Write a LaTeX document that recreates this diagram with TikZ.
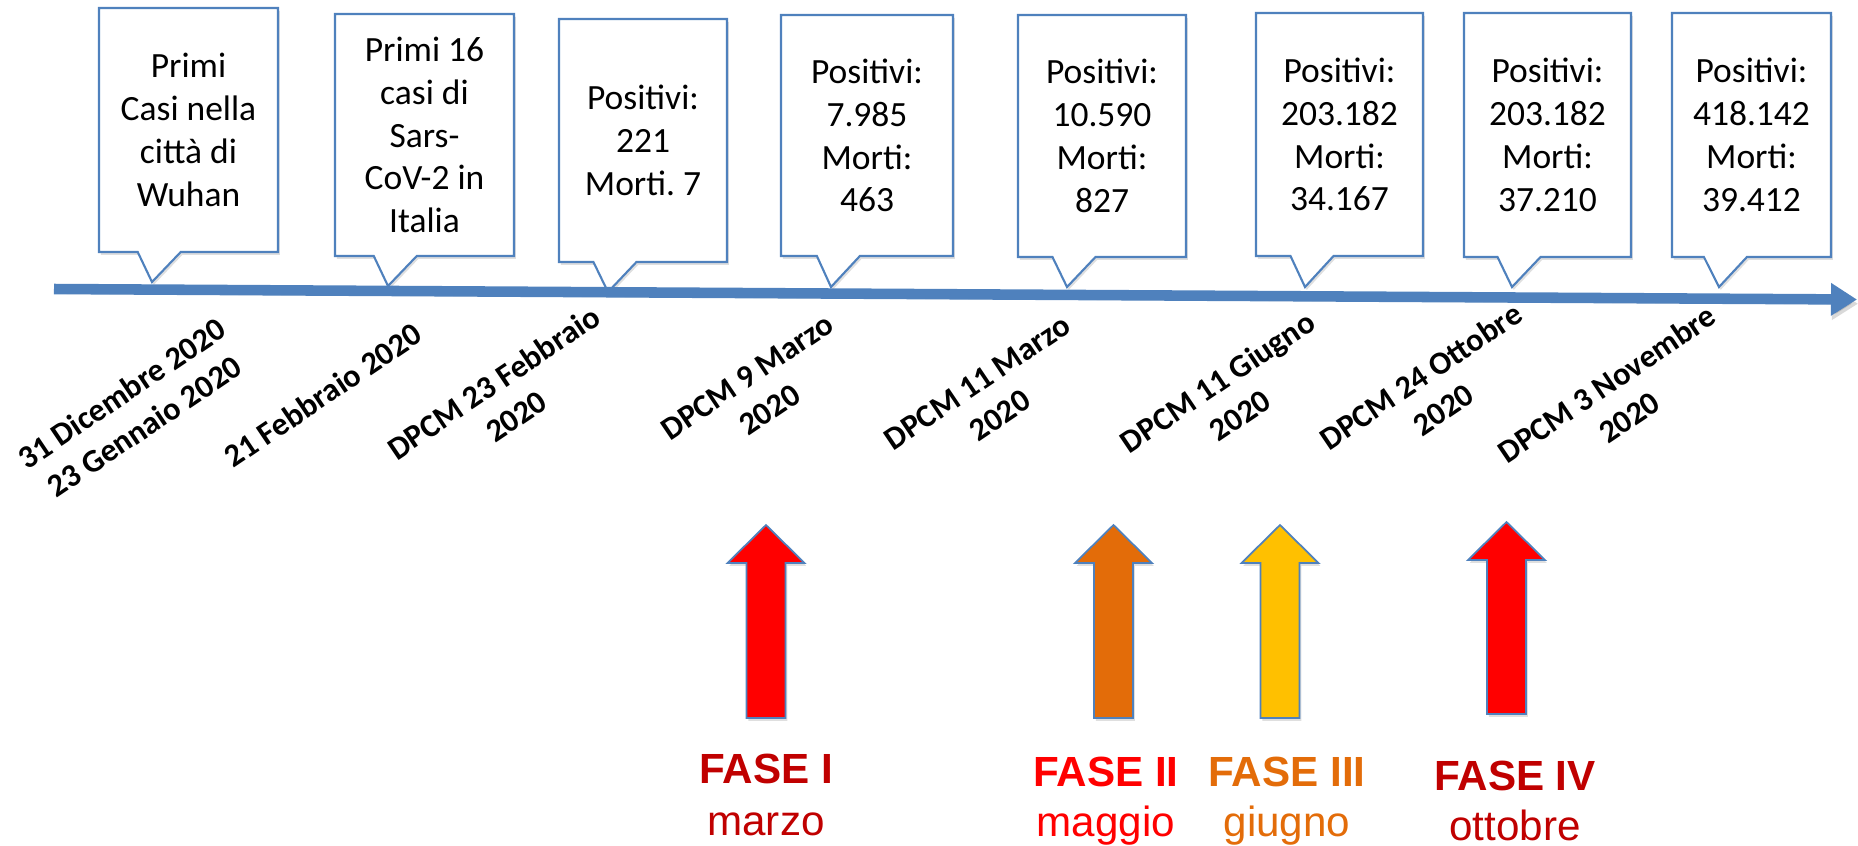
\documentclass[tikz,border=0pt]{standalone}
\usepackage{fontspec}
\setmainfont{Carlito}
\newfontfamily\arialfont{Liberation Sans}
\usepackage{tikz}
\usetikzlibrary{arrows.meta,shapes.callouts,shadows}
\definecolor{tlblue}{HTML}{4F81BD}
\definecolor{fasered}{HTML}{FF0000}
\definecolor{fasedark}{HTML}{C00000}
\definecolor{faseorange}{HTML}{E36C09}
\definecolor{faseyellow}{HTML}{FFC000}
\frenchspacing

\begin{document}
\begin{tikzpicture}[
    callbox/.style={rectangle callout, draw=tlblue, line width=0.6pt, fill=white,
      callout pointer width=0.43cm, align=center, inner sep=0pt,
      font=\fontsize{10.1}{12.2}\selectfont,
      drop shadow={shadow xshift=0.5pt, shadow yshift=-0.8pt, opacity=0.25}},
    datelabel/.style={rotate=34, anchor=north east, inner sep=0pt, align=center,
      font=\bfseries\fontsize{9.2}{11.4}\selectfont},
    fasearrow/.style={draw=tlblue, line width=0.5pt,
      drop shadow={shadow xshift=0.5pt, shadow yshift=-0.8pt, opacity=0.25}},
    fasetext/.style={anchor=base, inner sep=0pt, font=\arialfont\bfseries\fontsize{12}{14}\selectfont},
    mesetext/.style={anchor=base, inner sep=0pt, font=\arialfont\fontsize{12}{14}\selectfont}]

    \useasboundingbox (0,0) rectangle (18.58,-8.45);

    % pointer tips on the timeline
    \coordinate (t1) at ( 1.52,-2.82);
    \coordinate (t2) at ( 3.88,-2.86);
    \coordinate (t3) at ( 6.08,-2.92);
    \coordinate (t4) at ( 8.31,-2.87);
    \coordinate (t5) at (10.67,-2.87);
    \coordinate (t6) at (13.05,-2.87);
    \coordinate (t7) at (15.12,-2.87);
    \coordinate (t8) at (17.19,-2.87);

    % callouts
    \node[callbox, minimum width=1.79cm, minimum height=2.44cm, callout absolute pointer={(t1)}] (b1) at ( 1.885,-1.30)  {Primi\\Casi nella\\città di\\Wuhan};
    \node[callbox, minimum width=1.79cm, minimum height=2.42cm, callout absolute pointer={(t2)}] (b2) at ( 4.245,-1.35)  {Primi 16\\casi di\\Sars-\\CoV-2 in\\Italia};
    \node[callbox, minimum width=1.68cm, minimum height=2.43cm, callout absolute pointer={(t3)}] (b3) at ( 6.43, -1.405) {Positivi:\\221\\Morti. 7};
    \node[callbox, minimum width=1.72cm, minimum height=2.41cm, callout absolute pointer={(t4)}] (b4) at ( 8.67, -1.355) {Positivi:\\7.985\\Morti:\\463};
    \node[callbox, minimum width=1.68cm, minimum height=2.42cm, callout absolute pointer={(t5)}] (b5) at (11.02, -1.36)  {Positivi:\\10.590\\Morti:\\827};
    \node[callbox, minimum width=1.67cm, minimum height=2.43cm, callout absolute pointer={(t6)}] (b6) at (13.395,-1.345) {Positivi:\\203.182\\Morti:\\34.167};
    \node[callbox, minimum width=1.67cm, minimum height=2.44cm, callout absolute pointer={(t7)}] (b7) at (15.475,-1.35)  {Positivi:\\203.182\\Morti:\\37.210};
    \node[callbox, minimum width=1.59cm, minimum height=2.44cm, callout absolute pointer={(t8)}] (b8) at (17.515,-1.35)  {Positivi:\\418.142\\Morti:\\39.412};

    % timeline
    \coordinate (tl start) at ( 0.54,-2.89);
    \coordinate (tl end)   at (18.57,-2.995);
    \draw[tlblue, line width=3pt, -{Triangle[length=0.26cm, width=0.31cm]},
      preaction={draw=black, opacity=0.15, transform canvas={xshift=0.3pt, yshift=-1.2pt}}] (tl start) -- (tl end);

    % dates
    \node[datelabel] (d1) at ( 2.16,-3.15) {31 Dicembre 2020\\23 Gennaio 2020};
    \node[datelabel] (d2) at ( 4.12,-3.20) {21 Febbraio 2020};
    \node[datelabel] (d3) at ( 5.90,-3.03) {DPCM 23 Febbraio\\2020};
    \node[datelabel] (d4) at ( 8.24,-3.11) {DPCM 9 Marzo\\2020};
    \node[datelabel] (d5) at (10.61,-3.12) {DPCM 11 Marzo\\2020};
    \node[datelabel] (d6) at (13.05,-3.08) {DPCM 11 Giugno\\2020};
    \node[datelabel] (d7) at (15.12,-3.00) {DPCM 24 Ottobre\\2020};
    \node[datelabel] (d8) at (17.06,-3.02) {DPCM 3 Novembre\\2020};

    % phase arrows
    \filldraw[fasearrow, fill=fasered]     ( 7.465,-7.18) -- ++(0,1.55) -- ++(-0.19,0) -- ++(0.385,0.38) -- ++(0.385,-0.38) -- ++(-0.19,0) -- ++(0,-1.55) -- cycle;
    \filldraw[fasearrow, fill=faseorange]  (10.94, -7.18) -- ++(0,1.55) -- ++(-0.19,0) -- ++(0.385,0.38) -- ++(0.385,-0.38) -- ++(-0.19,0) -- ++(0,-1.55) -- cycle;
    \filldraw[fasearrow, fill=faseyellow]  (12.605,-7.18) -- ++(0,1.55) -- ++(-0.19,0) -- ++(0.385,0.38) -- ++(0.385,-0.38) -- ++(-0.19,0) -- ++(0,-1.55) -- cycle;
    \filldraw[fasearrow, fill=fasered]     (14.87, -7.14) -- ++(0,1.54) -- ++(-0.19,0) -- ++(0.385,0.38) -- ++(0.385,-0.38) -- ++(-0.19,0) -- ++(0,-1.54) -- cycle;

    % phase labels
    \node[fasetext, fasedark]   (f1) at ( 7.66,-7.83) {FASE I};
    \node[mesetext, fasedark]   (m1) at ( 7.66,-8.35) {marzo};
    \node[fasetext, fasered]    (f2) at (11.06,-7.86) {FASE II};
    \node[mesetext, fasered]    (m2) at (11.06,-8.36) {maggio};
    \node[fasetext, faseorange] (f3) at (12.87,-7.86) {FASE III};
    \node[mesetext, faseorange] (m3) at (12.87,-8.36) {giugno};
    \node[fasetext, fasedark]   (f4) at (15.15,-7.90) {FASE IV};
    \node[mesetext, fasedark]   (m4) at (15.15,-8.40) {ottobre};
\end{tikzpicture}
\end{document}
